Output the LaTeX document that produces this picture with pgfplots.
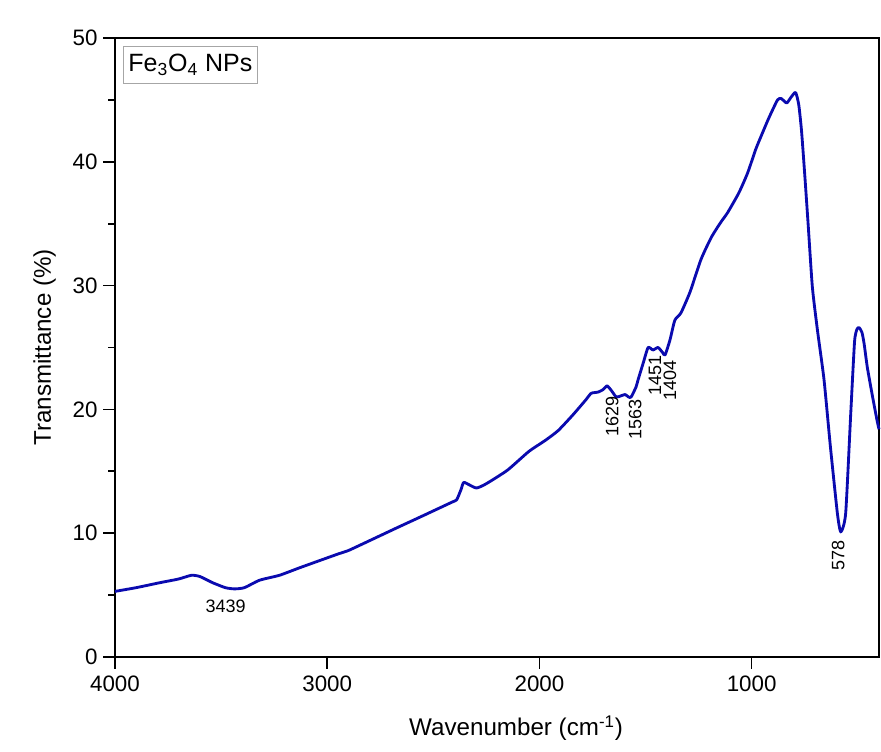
\documentclass[border=0pt]{standalone}
\usepackage{fontspec}
\setmainfont{Liberation Sans}
\usepackage{pgfplots}
\pgfplotsset{compat=1.18}
\definecolor{ftir}{RGB}{10,10,175}
\begin{document}
\begin{tikzpicture}
\useasboundingbox (-69pt,-57pt) rectangle (459.6pt,394.2pt);
\begin{axis}[
  at={(0,0)}, anchor=south west,
  scale only axis, width=458.4pt, height=371.4pt,
  x dir=reverse, xmin=400, xmax=4000, ymin=0, ymax=50,
  xtick={1000,2000,3000,4000}, ytick={0,10,20,30,40,50},
  minor y tick num=1,
  tick align=outside, xtick pos=bottom, ytick pos=left,
  major tick length=7pt, minor tick length=4pt,
  every tick/.style={black, line width=1pt},
  axis line style={black, line width=1.2pt},
  /pgf/number format/assume math mode=true,
  /pgf/number format/1000 sep={},
  tick label style={font=\fontsize{13.4}{15}\selectfont},
  xticklabel style={yshift=-1pt},
  label style={font=\fontsize{14.5}{17}\selectfont},
  xlabel={Wavenumber (cm\textsuperscript{-1})},
  ylabel={Transmittance (\%)},
  xlabel style={at={(axis description cs:0.525,-0.115)}, anchor=center},
  ylabel style={at={(axis description cs:-0.092,0.5)}, anchor=center},
  clip=false,
]
\addplot[ftir, line width=1.7pt, line join=round, smooth, tension=0.35] coordinates {
(4000,5.3)(3900,5.6)(3789,6.0)(3700,6.3)(3640,6.6)(3600,6.5)(3540,6.0)
(3480,5.6)(3437,5.5)(3390,5.6)(3319,6.2)(3225,6.6)(3131,7.2)(3050,7.7)
(2944,8.35)(2900,8.6)(2800,9.4)(2676,10.4)(2550,11.4)(2413,12.5)(2390,12.7)
(2370,13.5)(2357,14.1)(2330,13.9)(2296,13.65)(2250,14.0)(2150,15.1)
(2050,16.6)(1972,17.5)(1911,18.3)(1840,19.6)(1780,20.8)(1756,21.3)
(1723,21.4)(1700,21.6)(1681,21.9)(1660,21.5)(1638,21.0)(1615,21.1)
(1596,21.2)(1580,21.0)(1568,21.0)(1545,21.8)(1535,22.4)(1510,23.8)
(1488,25.0)(1465,24.8)(1441,25.0)(1420,24.6)(1408,24.4)(1385,25.6)
(1362,27.2)(1333,27.8)(1290,29.5)(1239,32.1)(1190,33.9)(1146,35.1)
(1113,35.9)(1060,37.5)(1019,39.1)(981,41.0)(962,41.8)(920,43.5)
(878,45.0)(860,45.1)(835,44.75)(815,45.2)(793,45.6)(778,44.6)(765,42.5)
(750,39.0)(734,35.0)(714,29.9)(690,26.4)(659,22.4)(629,17.0)(596,11.6)
(580,10.1)(557,11.6)(533,19.7)(515,25.5)(503,26.5)(493,26.6)
(480,26.2)(470,25.3)(455,23.4)(430,21.0)(409,19.1)(400,18.4)
};
\tikzset{ann/.style={font=\fontsize{10.8}{12}\selectfont, inner sep=0pt}}
\node[ann] at (axis cs:3479,4.1) {3439};
\node[ann, rotate=90] at (axis cs:1657,19.4) {1629};
\node[ann, rotate=90] at (axis cs:1549,19.2) {1563};
\node[ann, rotate=90] at (axis cs:1455,22.7) {1451};
\node[ann, rotate=90] at (axis cs:1385,22.3) {1404};
\node[ann, rotate=90] at (axis cs:592,8.2) {578};
\node[draw=gray!70, line width=0.5pt, anchor=north west, inner xsep=3pt, inner ysep=4.5pt,
  font=\fontsize{15}{17}\selectfont]
  at (axis description cs:0.0105,0.987) {Fe\textsubscript{3}O\textsubscript{4} NPs};
\end{axis}
\end{tikzpicture}
\end{document}
